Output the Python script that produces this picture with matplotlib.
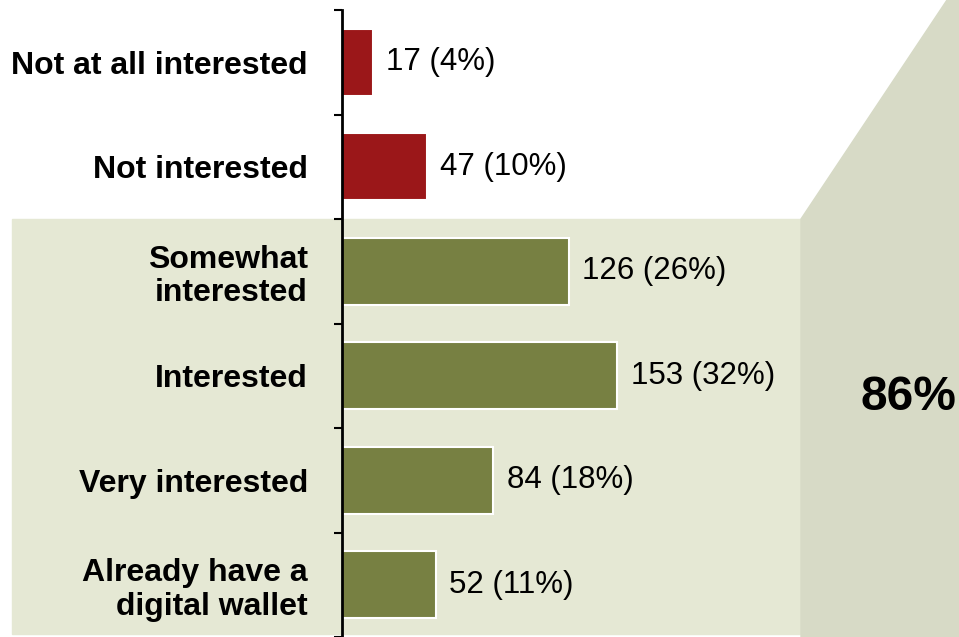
import matplotlib.pyplot as plt
from matplotlib.patches import Polygon, Rectangle

CATEGORIES = [
    "Not at all interested",
    "Not interested",
    "Somewhat\ninterested",
    "Interested",
    "Very interested",
    "Already have a\ndigital wallet",
]
COUNTS = [17, 47, 126, 153, 84, 52]
PERCENTS = [4, 10, 26, 32, 18, 11]
POSITIVE_SHARE = "86%"

RED = "#9B1719"
GREEN = "#778042"
PANEL = "#E5E8D4"
SIDE = "#D7DAC6"

W, H = 959, 637


def px_box(x0, y0, x1, y1):
    # pixel rectangle (origin top-left) -> figure fraction [left, bottom, width, height]
    return [x0 / W, 1 - y1 / H, (x1 - x0) / W, (y1 - y0) / H]


def main() -> None:
    plt.rcParams["font.family"] = ["Liberation Sans", "DejaVu Sans"]
    fig = plt.figure(figsize=(W / 100, H / 100), dpi=100)

    # shaded block behind the interested rows, plus the slanted side panel
    fig.patches.append(Rectangle((12 / W, 1 - 634 / H), (801 - 12) / W, (634 - 219) / H,
                                 transform=fig.transFigure, color=PANEL, zorder=0))
    side = [(801, 637), (801, 219), (947, 0), (959, 0), (959, 637)]
    fig.patches.append(Polygon([(x / W, 1 - y / H) for x, y in side],
                               transform=fig.transFigure, color=SIDE, zorder=0))

    ax = fig.add_axes(px_box(342, 10, 959, 637))
    ax.set_facecolor("none")
    ax.set_zorder(2)

    n = len(CATEGORIES)
    ys = list(range(n))
    colors = [RED, RED] + [GREEN] * (n - 2)
    ax.barh(ys, COUNTS, height=0.64, color=colors, edgecolor="white", linewidth=1.5, zorder=2)

    for y, c, p in zip(ys, COUNTS, PERCENTS):
        ax.text(c + 7.5, y, f"{c} ({p}%)", va="center", ha="left", fontsize=22.5)

    ax.set_xlim(0, 343)
    ax.set_ylim(n - 0.5, -0.5)

    ax.set_yticks(ys)
    ax.set_yticklabels(CATEGORIES, fontsize=23, fontweight="bold", linespacing=1.15)
    ax.tick_params(axis="y", which="major", length=0, pad=24.5)
    ax.set_yticks([i - 0.5 for i in range(n + 1)], minor=True)
    ax.tick_params(axis="y", which="minor", length=6, width=1.5, direction="out")
    ax.set_xticks([])

    for side_name in ("top", "right", "bottom"):
        ax.spines[side_name].set_visible(False)
    ax.spines["left"].set_linewidth(2)

    fig.text(908 / W, 1 - 397 / H, POSITIVE_SHARE, ha="center", va="center",
             fontsize=34.5, fontweight="bold", zorder=3)

    fig.savefig("out.png", dpi=100)
    plt.close(fig)


if __name__ == "__main__":
    main()
